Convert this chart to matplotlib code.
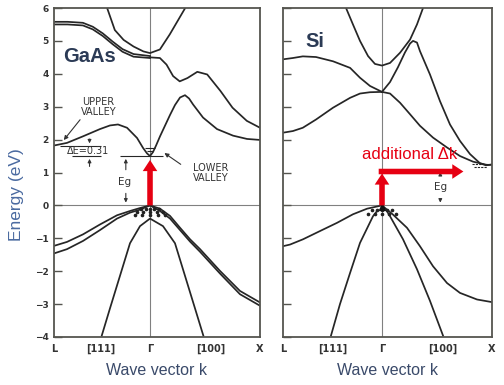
import matplotlib.pyplot as plt

# k axis: L at about -0.87, Gamma at 0, X at 1 ; energy in eV
# ---------------- GaAs ----------------
gaas_up1_k = [-0.873, -0.75, -0.61, -0.52, -0.43, -0.34, -0.25, -0.15, 0.0]
gaas_up1_e = [5.58, 5.58, 5.55, 5.43, 5.23, 4.98, 4.75, 4.60, 4.54]
gaas_up2_e = [5.50, 5.50, 5.47, 5.35, 5.15, 4.90, 4.67, 4.52, 4.48]
gaas_upx_k = [0.0, 0.09, 0.15, 0.21, 0.27, 0.34, 0.43, 0.52, 0.64, 0.75, 0.88, 1.0]
gaas_upx_e = [4.50, 4.48, 4.28, 3.93, 3.77, 3.87, 4.06, 3.98, 3.48, 2.97, 2.57, 2.36]

gaas_par_k = [-0.39, -0.32, -0.24, -0.15, -0.06, 0.0, 0.09, 0.18, 0.25, 0.32]
gaas_par_e = [6.0, 5.33, 5.03, 4.83, 4.68, 4.63, 4.74, 5.2, 5.6, 6.0]

gaas_cb_k = [-0.873, -0.755, -0.609, -0.455, -0.364, -0.291, -0.209, -0.118, -0.064,
             -0.027, 0.0, 0.027, 0.055, 0.091, 0.182, 0.227, 0.273, 0.318, 0.355,
             0.391, 0.482, 0.609, 0.755, 0.882, 1.0]
gaas_cb_e = [1.82, 1.90, 2.10, 2.32, 2.43, 2.46, 2.36, 2.05, 1.75, 1.58, 1.50, 1.62,
             1.82, 2.10, 2.75, 3.05, 3.28, 3.35, 3.25, 3.07, 2.67, 2.32, 2.12, 2.02, 1.99]

gaas_vb_k = [-0.873, -0.755, -0.609, -0.455, -0.30, -0.182, -0.091, 0.0,
             0.091, 0.182, 0.273, 0.364, 0.455, 0.636, 0.818, 1.0]
gaas_vb1_e = [-1.23, -1.11, -0.88, -0.58, -0.30, -0.17, -0.08, 0.0,
              -0.10, -0.32, -0.68, -1.03, -1.33, -1.99, -2.60, -2.95]
gaas_vb2_e = [-1.46, -1.33, -1.08, -0.75, -0.40, -0.22, -0.13, 0.0,
              -0.17, -0.40, -0.75, -1.10, -1.41, -2.07, -2.70, -3.05]

gaas_so_k = [-0.439, -0.364, -0.273, -0.182, -0.091, 0.0, 0.118, 0.227, 0.318, 0.409, 0.485]
gaas_so_e = [-3.96, -3.13, -2.14, -1.15, -0.63, -0.40, -0.63, -1.15, -2.14, -3.13, -3.96]

# ---------------- Si ----------------
si_cb1_k = [-0.9, -0.81, -0.72, -0.60, -0.445, -0.29, -0.20, -0.109, 0.0]
si_cb1_e = [4.44, 4.48, 4.53, 4.51, 4.38, 4.18, 3.88, 3.63, 3.45]
si_cb2_e = [2.21, 2.26, 2.36, 2.61, 2.97, 3.27, 3.40, 3.44, 3.45]

si_par_k = [-0.327, -0.264, -0.20, -0.127, -0.064, 0.0, 0.073, 0.164, 0.255, 0.318, 0.373]
si_par_e = [6.0, 5.5, 5.0, 4.54, 4.30, 4.25, 4.33, 4.64, 5.04, 5.5, 6.0]

si_cb3_k = [0.0, 0.073, 0.145, 0.209, 0.255, 0.282, 0.318, 0.345, 0.436, 0.527,
            0.618, 0.709, 0.80, 0.891, 0.945, 1.0]
si_cb3_e = [3.45, 3.75, 4.20, 4.65, 4.92, 5.00, 4.95, 4.69, 3.98, 3.17,
            2.46, 1.96, 1.56, 1.28, 1.22, 1.24]
si_cb4_k = [0.0, 0.073, 0.164, 0.255, 0.345, 0.464, 0.591, 0.709, 0.827, 0.955, 1.0]
si_cb4_e = [3.45, 3.40, 3.12, 2.77, 2.42, 2.06, 1.76, 1.50, 1.33, 1.23, 1.24]

si_vb1_k = [-0.9, -0.836, -0.718, -0.564, -0.409, -0.264, -0.136, 0.0,
            0.10, 0.227, 0.345, 0.464, 0.591, 0.709, 0.864, 1.0]
si_vb1_e = [-1.24, -1.19, -1.03, -0.78, -0.53, -0.27, -0.10, 0.0,
            -0.28, -0.68, -1.24, -1.85, -2.36, -2.66, -2.86, -2.94]
si_vb2_k = [-0.464, -0.382, -0.29, -0.20, -0.082, -0.04]
si_vb2_e = [-3.96, -3.0, -2.05, -1.14, -0.33, -0.15]
si_vb3_k = [0.04, 0.073, 0.191, 0.318, 0.436, 0.555]
si_vb3_e = [-0.15, -0.33, -1.03, -1.94, -2.90, -3.96]

# holes (dots) and electrons (dashes)
gaas_holes_k = [-0.08, -0.04, 0.0, 0.04, 0.08, -0.12, -0.06, 0.0, 0.06, 0.12, -0.14, -0.07, 0.0, 0.07, 0.14]
gaas_holes_e = [-0.1] * 5 + [-0.2] * 5 + [-0.3] * 5
si_holes_k = [-0.09, -0.045, 0.0, 0.045, 0.09, -0.13, -0.065, 0.0, 0.065, 0.13]
si_holes_e = [-0.14] * 5 + [-0.25] * 5

yticks = [-4, -3, -2, -1, 0, 1, 2, 3, 4, 5, 6]
xtick_pos = [-0.873, -0.45, 0.0, 0.55, 1.0]
xtick_lab = ['L', '[111]', 'Γ', '[100]', 'X']

line_c = '#262626'
frame_c = '#55554f'
red = '#e60012'
title_c = '#2b3a55'

fig = plt.figure(figsize=(5.04, 3.85), dpi=100)
ax1 = fig.add_axes([54 / 504, 48 / 385, 206 / 504, 329 / 385])
ax2 = fig.add_axes([283 / 504, 48 / 385, 209 / 504, 329 / 385])

for ax, xmin in [(ax1, -0.873), (ax2, -0.9)]:
    ax.set_xlim(xmin, 1.0)
    ax.set_ylim(-4, 6)
    ax.axhline(0, color='#808080', lw=0.8, zorder=1)
    ax.axvline(0, color='#808080', lw=0.8, zorder=1)
    ax.set_yticks(yticks)
    ax.tick_params(axis='y', direction='in', length=6, width=1.0, color=frame_c,
                   labelsize=6.5, pad=4, labelcolor='#333333')
    ax.set_xticks([xmin] + xtick_pos[1:])
    ax.set_xticklabels(xtick_lab, fontweight='bold')
    ax.tick_params(axis='x', length=0, labelsize=7, pad=5, labelcolor='#333333')
    for s in ax.spines.values():
        s.set_color(frame_c)
        s.set_linewidth(1.3)
    ax.set_xlabel('Wave vector k', fontsize=11.5, color='#3a4a6a', family='Liberation Sans', labelpad=6)
ax2.set_yticklabels([])
for lab in ax1.get_yticklabels():
    lab.set_fontweight('bold')

# GaAs bands
kw = dict(color=line_c, lw=1.25)
ax1.plot(gaas_up1_k, gaas_up1_e, **kw)
ax1.plot(gaas_up1_k, gaas_up2_e, **kw)
ax1.plot(gaas_upx_k, gaas_upx_e, **kw)
ax1.plot(gaas_par_k, gaas_par_e, **kw)
ax1.plot(gaas_cb_k, gaas_cb_e, **kw)
ax1.plot(gaas_vb_k, gaas_vb1_e, **kw)
ax1.plot(gaas_vb_k, gaas_vb2_e, **kw)
ax1.plot(gaas_so_k, gaas_so_e, **kw)
ax1.plot(gaas_holes_k, gaas_holes_e, 'o', ms=1.6, color='#222222')
ax1.hlines([1.75, 1.64], [-0.045, -0.03], [0.045, 0.03], color=line_c, lw=0.8)

# GaAs annotations
fs = 7
ax1.text(-0.47, 3.0, 'UPPER\nVALLEY', fontsize=fs, ha='center', va='center', color='#333333', linespacing=1.0)
ax1.annotate('', xy=(-0.8, 1.92), xytext=(-0.62, 2.67),
             arrowprops=dict(arrowstyle='-|>', color='#333333', lw=0.8, mutation_scale=6))
ax1.text(-0.56, 1.64, 'ΔE=0.31', fontsize=fs, ha='center', va='center', color='#333333')
ax1.hlines([1.8, 1.5], [-0.82, -0.71], [-0.45, -0.45], color=line_c, lw=0.8)
ax1.hlines(1.5, -0.27, 0.12, color=line_c, lw=0.8)
ax1.annotate('', xy=(-0.55, 1.8), xytext=(-0.55, 2.1),
             arrowprops=dict(arrowstyle='-|>', color='#333333', lw=0.8, mutation_scale=5))
ax1.annotate('', xy=(-0.55, 1.5), xytext=(-0.55, 1.1),
             arrowprops=dict(arrowstyle='-|>', color='#333333', lw=0.8, mutation_scale=5))
ax1.annotate('', xy=(-0.22, 1.5), xytext=(-0.22, 1.0),
             arrowprops=dict(arrowstyle='-|>', color='#333333', lw=0.8, mutation_scale=5))
ax1.annotate('', xy=(-0.22, 0.0), xytext=(-0.22, 0.45),
             arrowprops=dict(arrowstyle='-|>', color='#333333', lw=0.8, mutation_scale=5))
ax1.text(-0.227, 0.7, 'Eg', fontsize=7.5, ha='center', va='center', color='#333333')
ax1.text(0.55, 0.97, 'LOWER\nVALLEY', fontsize=fs, ha='center', va='center', color='#333333', linespacing=1.0)
ax1.annotate('', xy=(0.11, 1.64), xytext=(0.3, 1.2),
             arrowprops=dict(arrowstyle='-|>', color='#333333', lw=0.8, mutation_scale=6))
ax1.text(-0.79, 4.36, 'GaAs', fontsize=14.5, fontweight='bold', color=title_c, family='Liberation Sans')

# Si bands
ax2.plot(si_cb1_k, si_cb1_e, **kw)
ax2.plot(si_cb1_k, si_cb2_e, **kw)
ax2.plot(si_par_k, si_par_e, **kw)
ax2.plot(si_cb3_k, si_cb3_e, **kw)
ax2.plot(si_cb4_k, si_cb4_e, **kw)
ax2.plot(si_vb1_k, si_vb1_e, **kw)
ax2.plot(si_vb2_k, si_vb2_e, **kw)
ax2.plot(si_vb3_k, si_vb3_e, **kw)
ax2.plot(si_holes_k, si_holes_e, 'o', ms=1.6, color='#222222')
ax2.plot([0], [-0.04], '^', ms=4, color='#111111')
ax2.hlines([1.27, 1.18], [0.82, 0.84], [0.96, 0.95], color=line_c, lw=0.8, linestyles=(0, (2, 1)))
ax2.annotate('', xy=(0.53, 1.1), xytext=(0.53, 0.9),
             arrowprops=dict(arrowstyle='-|>', color='#333333', lw=0.8, mutation_scale=5))
ax2.annotate('', xy=(0.53, 0.0), xytext=(0.53, 0.25),
             arrowprops=dict(arrowstyle='-|>', color='#333333', lw=0.8, mutation_scale=5))
ax2.text(0.53, 0.55, 'Eg', fontsize=7.5, ha='center', va='center', color='#333333')
ax2.text(-0.7, 4.82, 'Si', fontsize=14.5, fontweight='bold', color=title_c, family='Liberation Sans')

# red arrows
red_arrow = dict(arrowstyle='simple,head_length=0.8,head_width=1.05,tail_width=0.4',
                 color=red, mutation_scale=10, shrinkA=0, shrinkB=0, lw=0)
ax1.annotate('', xy=(0, 1.38), xytext=(0, 0), arrowprops=red_arrow, zorder=5)
ax2.annotate('', xy=(0, 0.97), xytext=(0, 0), arrowprops=red_arrow, zorder=5)
ax2.annotate('', xy=(0.74, 1.03), xytext=(-0.03, 1.03), arrowprops=red_arrow, zorder=5)
ax2.text(0.255, 1.55, 'additional Δk', fontsize=12, color=red, ha='center', va='center',
         family='Liberation Sans')

fig.text(17 / 504, 1 - 195 / 385, 'Energy (eV)', rotation=90, ha='center', va='center',
         fontsize=12.5, color='#4a6aa0', family='Liberation Sans')

fig.savefig('out.png', dpi=100)
